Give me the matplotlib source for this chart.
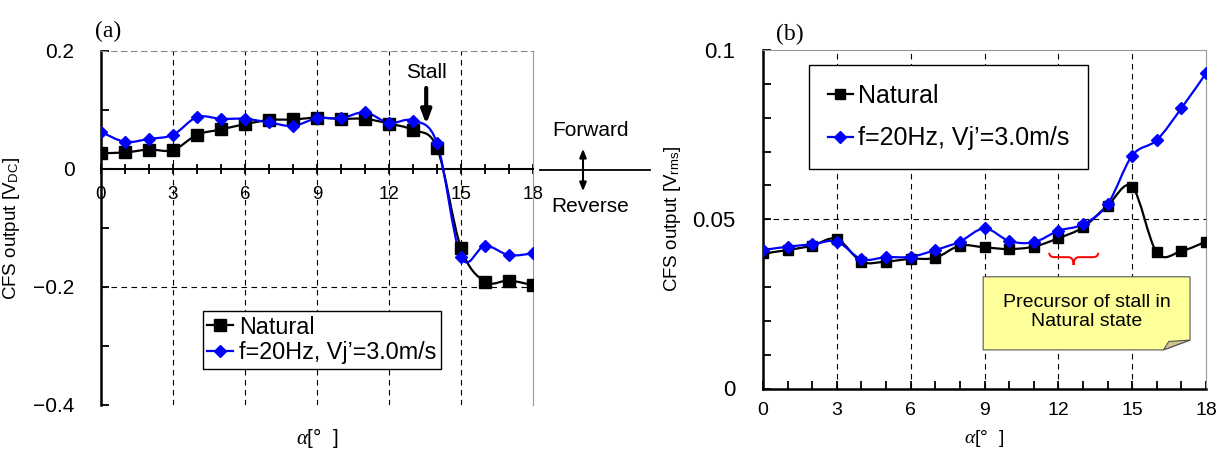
import numpy as np
import matplotlib
matplotlib.use("Agg")
import matplotlib.pyplot as plt
from matplotlib.path import Path
from matplotlib.patches import PathPatch, Polygon
from matplotlib.lines import Line2D
from matplotlib.ticker import MultipleLocator

plt.rcParams['font.family'] = ['Liberation Sans', 'DejaVu Sans']
plt.rcParams['mathtext.fontset'] = 'custom'
plt.rcParams['mathtext.rm'] = 'Liberation Sans'
plt.rcParams['mathtext.it'] = 'Liberation Serif:italic'

# angle of attack [deg]
alpha = np.arange(0, 19)

# (a) DC output
dc_natural = [0.027, 0.028, 0.033, 0.032, 0.058, 0.067, 0.076, 0.083, 0.084, 0.087,
              0.085, 0.085, 0.077, 0.066, 0.036, -0.134, -0.191, -0.189, -0.197]
dc_forced = [0.063, 0.046, 0.051, 0.058, 0.088, 0.085, 0.085, 0.079, 0.073, 0.086,
             0.086, 0.096, 0.078, 0.082, 0.044, -0.149, -0.130, -0.146, -0.143]

# (b) rms output
rms_natural = [0.0399, 0.0409, 0.0422, 0.0442, 0.0375, 0.0375, 0.0383, 0.0386, 0.0422, 0.0417,
               0.0412, 0.0419, 0.0444, 0.0476, 0.0540, 0.0596, 0.0402, 0.0406, 0.0434]
rms_forced = [0.0409, 0.0419, 0.0426, 0.0434, 0.0382, 0.0388, 0.0389, 0.0409, 0.0434, 0.0473,
              0.0436, 0.0432, 0.0466, 0.0485, 0.0544, 0.0688, 0.0734, 0.0828, 0.0931]

labels = ['Natural', "f=20Hz, Vj’=3.0m/s"]
xticks = [0, 3, 6, 9, 12, 15, 18]


def smooth_path(x, y):
    # excel-like smoothed line: catmull-rom as cubic bezier
    x = np.asarray(x, float); y = np.asarray(y, float)
    n = len(x)
    verts = [(x[0], y[0])]
    codes = [Path.MOVETO]
    for i in range(n - 1):
        a = max(i - 1, 0); b = min(i + 2, n - 1)
        c1 = (x[i] + (x[i + 1] - x[a]) / 6, y[i] + (y[i + 1] - y[a]) / 6)
        c2 = (x[i + 1] - (x[b] - x[i]) / 6, y[i + 1] - (y[b] - y[i]) / 6)
        verts += [c1, c2, (x[i + 1], y[i + 1])]
        codes += [Path.CURVE4] * 3
    return Path(verts, codes)


def draw_series(ax, x, y, color, marker, ms):
    ax.add_patch(PathPatch(smooth_path(x, y), fill=False, edgecolor=color, lw=1.6, zorder=3))
    ax.plot(x, y, ls='none', marker=marker, ms=ms, color=color, zorder=4)


def handles(ms_sq, ms_d):
    return [Line2D([], [], color='black', lw=1.6, marker='s', ms=ms_sq),
            Line2D([], [], color='#0000ff', lw=1.6, marker='D', ms=ms_d)]


fig = plt.figure(figsize=(12.26, 4.51), dpi=100)

# ---------------- (a)
ax1 = fig.add_axes([101 / 1226, 1 - 405 / 451, 432 / 1226, 354 / 451])
ax1.set_xlim(0, 18)
ax1.set_ylim(-0.4, 0.2)
draw_series(ax1, alpha, dc_natural, 'black', 's', 8.5)
draw_series(ax1, alpha, dc_forced, '#0000ff', 'D', 6)

for xv in [3, 6, 9, 12, 15]:
    ax1.axvline(xv, color='black', ls=(0, (5, 4)), lw=0.8, zorder=1)
ax1.axhline(-0.2, color='black', ls=(0, (5, 4)), lw=0.8, zorder=1)

ax1.spines['bottom'].set_position(('data', 0))
ax1.spines['bottom'].set_linewidth(1.5)
ax1.spines['left'].set_linewidth(1.8)
ax1.spines['top'].set_color('#888888')
ax1.spines['top'].set_linestyle((0, (5, 4)))
ax1.spines['top'].set_linewidth(0.8)
ax1.spines['right'].set_color('#999999')
ax1.spines['right'].set_linewidth(0.8)

ax1.set_xticks(xticks)
ax1.xaxis.set_minor_locator(MultipleLocator(1))
ax1.tick_params(axis='x', which='both', direction='inout', length=7, width=1.3, pad=9, labelsize=13.5)
ax1.set_yticks([-0.4, -0.2, 0, 0.2])
ax1.set_yticklabels(['−0.4', '−0.2', '0', '0.2'])
ax1.yaxis.set_minor_locator(MultipleLocator(0.1))
ax1.tick_params(axis='y', which='both', direction='in', length=6, width=1.3, pad=19, labelsize=15)
ax1.set_ylabel('CFS output [V$_{\\mathrm{DC}}$]', fontsize=13.5)
ax1.yaxis.set_label_coords(-0.182, 0.5)
ax1.set_xlabel(r'$\alpha$[°  ]', fontsize=15)
ax1.xaxis.set_label_coords(0.5, -0.093)
ax1.xaxis.label.set_va('center')
ax1.text(-0.014, 1.04, '(a)', transform=ax1.transAxes, fontsize=17, family='Liberation Serif')

ax1.legend(handles(8.5, 6), labels, loc='lower left', bbox_to_anchor=(0.2356, 0.1017), fontsize=16.8,
           fancybox=False, framealpha=1, edgecolor='black', handlelength=1.1,
           handletextpad=0.25, borderpad=0.2, labelspacing=0.12, borderaxespad=0)

ax1.annotate('', xy=(13.55, 0.071), xytext=(13.55, 0.142),
             arrowprops=dict(arrowstyle='-|>,head_width=0.3,head_length=0.8', color='black', lw=3))
ax1.text(13.55, 0.1636, 'Stall', ha='center', va='center', fontsize=15)

# forward / reverse marks outside (a)
fig.add_artist(Line2D([540 / 1226, 650 / 1226], [1 - 170 / 451, 1 - 170 / 451], color='black', lw=1.3))
fig.text(590 / 1226, 1 - 131 / 451, 'Forward', ha='center', va='center', fontsize=15)
fig.text(590 / 1226, 1 - 207 / 451, 'Reverse', ha='center', va='center', fontsize=15)
fig.add_artist(plt.Annotation('', xy=(583 / 1226, 1 - 146 / 451), xytext=(583 / 1226, 1 - 194 / 451),
                              xycoords='figure fraction', textcoords='figure fraction',
                              arrowprops=dict(arrowstyle='<|-|>,head_width=0.2,head_length=0.5',
                                              color='black', lw=1.5)))

# ---------------- (b)
ax2 = fig.add_axes([763 / 1226, 1 - 388.5 / 451, 443 / 1226, 338.5 / 451])
ax2.set_xlim(0, 18)
ax2.set_ylim(0, 0.1)
draw_series(ax2, alpha, rms_natural, 'black', 's', 7.5)
draw_series(ax2, alpha, rms_forced, '#0000ff', 'D', 6)

for xv in [3, 6, 9, 12, 15]:
    ax2.axvline(xv, color='black', ls=(0, (5, 4)), lw=0.8, zorder=1)
ax2.axhline(0.05, color='black', ls=(0, (5, 4)), lw=0.8, zorder=1)

ax2.spines['bottom'].set_linewidth(1.8)
ax2.spines['left'].set_linewidth(1.8)
for s in ['top', 'right']:
    ax2.spines[s].set_color('#999999')
    ax2.spines[s].set_linewidth(0.8)

ax2.set_xticks(xticks)
ax2.xaxis.set_minor_locator(MultipleLocator(1))
ax2.tick_params(axis='x', which='both', direction='in', length=6, width=1.3, pad=10, labelsize=14)
ax2.set_yticks([0, 0.05, 0.1])
ax2.set_yticklabels(['0', '0.05', '0.1'])
ax2.yaxis.set_minor_locator(MultipleLocator(0.01))
ax2.tick_params(axis='y', which='both', direction='in', length=6, width=1.3, pad=20, labelsize=16)
ax2.set_ylabel('CFS output [V$_{\\mathrm{rms}}$]', fontsize=13.5)
ax2.yaxis.set_label_coords(-0.18, 0.5)
ax2.set_xlabel(r'$\alpha$[°  ]', fontsize=14)
ax2.xaxis.set_label_coords(0.5, -0.148)
ax2.xaxis.label.set_va('center')
ax2.text(0.03, 1.03, '(b)', transform=ax2.transAxes, fontsize=17, family='Liberation Serif')

ax2.legend(handles(7.5, 6), labels, loc='upper left', bbox_to_anchor=(0.104, 0.9557), fontsize=18,
           fancybox=False, framealpha=1, edgecolor='black', handlelength=1.0,
           handletextpad=0.2, borderpad=0.75, labelspacing=0.75, borderaxespad=0)

# red brace under alpha 11.6-13.6
bx0, bx1, bm = 11.63, 13.62, 12.62
by0, by1, by2 = 0.0401, 0.0388, 0.0365
r = 0.22
brace = Path([(bx0, by0), (bx0, by1), (bx0 + r, by1), (bm - r, by1), (bm, by1), (bm, by2),
              (bm, by2), (bm, by1), (bm + r, by1), (bx1 - r, by1), (bx1, by1), (bx1, by0)],
             [Path.MOVETO, Path.CURVE3, Path.CURVE3, Path.LINETO, Path.CURVE3, Path.CURVE3,
              Path.MOVETO, Path.CURVE3, Path.CURVE3, Path.LINETO, Path.CURVE3, Path.CURVE3])
ax2.add_patch(PathPatch(brace, fill=False, edgecolor='red', lw=1.4, zorder=5))

# note box with folded corner (axes fraction)
nx0, nx1, ny0, ny1 = 0.497, 0.964, 0.114, 0.330
fx, fy = 0.904, 0.143
note = Polygon([(nx0, ny0), (nx0, ny1), (nx1, ny1), (nx1, fy), (fx, ny0)],
               closed=True, transform=ax2.transAxes, facecolor='#ffff99', edgecolor='#555555',
               lw=0.8, zorder=6)
ax2.add_patch(note)
flap = Polygon([(nx1, fy), (fx, ny0), (fx + 0.012, fy - 0.004)],
               closed=True, transform=ax2.transAxes, facecolor='#cdc58a', edgecolor='#555555',
               lw=0.8, zorder=7)
ax2.add_patch(flap)
ax2.text((nx0 + nx1) / 2, (ny0 + ny1) / 2 + 0.004, 'Precursor of stall in\nNatural state',
         transform=ax2.transAxes, ha='center', va='center', fontsize=14, linespacing=1.2, zorder=8)

fig.savefig('out.png', dpi=100, facecolor='white')
